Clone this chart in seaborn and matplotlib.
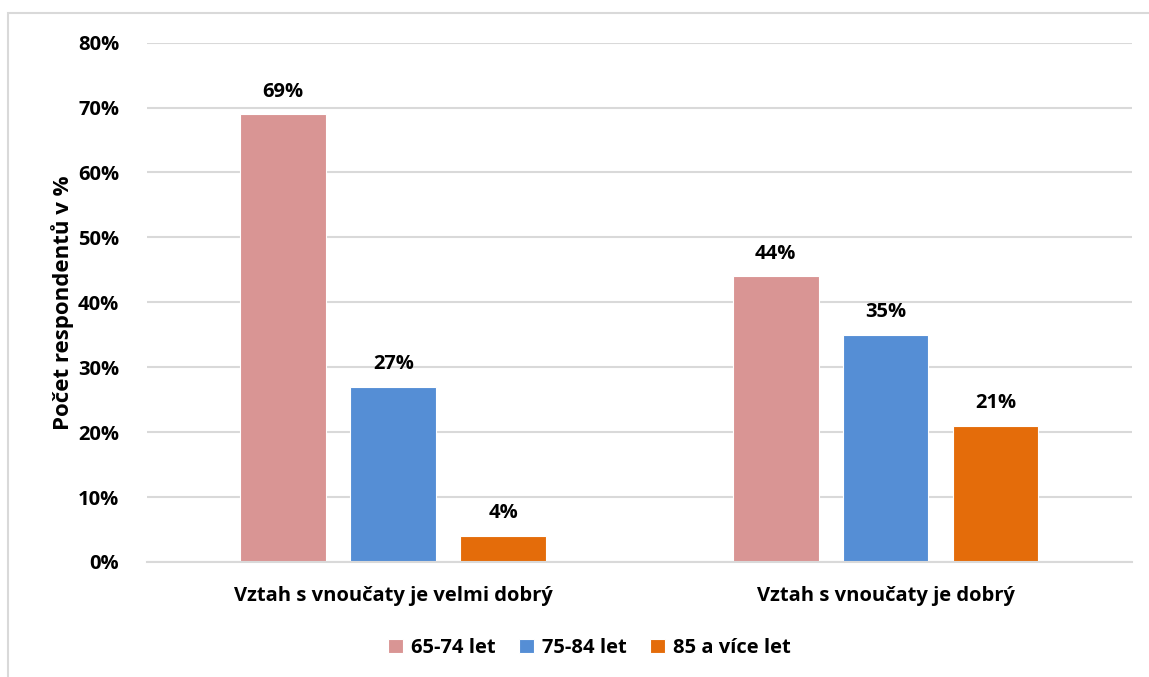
import pandas as pd
import matplotlib
matplotlib.use("Agg")
import matplotlib.pyplot as plt
import seaborn as sns
from matplotlib.patches import Rectangle
from matplotlib.ticker import FuncFormatter

# ── data ────────────────────────────────────────────────────────────────
categories = ["Vztah s vnoučaty je velmi dobrý", "Vztah s vnoučaty je dobrý"]
age_groups = ["65-74 let", "75-84 let", "85 a více let"]
vals_65_74 = [69, 44]
vals_75_84 = [27, 35]
vals_85 = [4, 21]
colors = ["#D99594", "#558ED5", "#E46C0A"]

rows = []
for grp, vals in zip(age_groups, [vals_65_74, vals_75_84, vals_85]):
    for cat, v in zip(categories, vals):
        rows.append({"kategorie": cat, "vek": grp, "procent": v})
df = pd.DataFrame(rows)

sns.set_theme(style="white")
plt.rcParams["font.family"] = ["Open Sans", "DejaVu Sans"]
plt.rcParams["font.weight"] = "bold"
for key in ["text.color", "axes.labelcolor", "xtick.color", "ytick.color"]:
    plt.rcParams[key] = "black"
FS = 14.5

fig = plt.figure(figsize=(11.49, 6.77), dpi=100)
ax = fig.add_axes([0.128, 0.170, 0.857, 0.767])

sns.barplot(
    data=df, x="kategorie", y="procent", hue="vek",
    order=categories, hue_order=age_groups, palette=colors, saturation=1,
    width=0.67, gap=0.22, edgecolor="white", linewidth=0.8,
    ax=ax, legend=True,
)

for cont in ax.containers:
    ax.bar_label(cont, fmt="%d%%", padding=9, fontsize=FS, fontweight="bold")

ax.set_ylim(0, 80)
ax.set_xlim(-0.5, 1.5)
ax.set_yticks(range(0, 81, 10))
ax.yaxis.set_major_formatter(FuncFormatter(lambda v, p: f"{int(v)}%"))
ax.grid(axis="y", color="#D9D9D9", linewidth=1.5)
ax.set_axisbelow(True)
for s in ["top", "right", "left"]:
    ax.spines[s].set_visible(False)
ax.spines["bottom"].set_color("#D9D9D9")
ax.spines["bottom"].set_linewidth(1.5)
ax.tick_params(axis="both", length=0, labelsize=FS)
ax.tick_params(axis="y", pad=20)
ax.tick_params(axis="x", pad=17)
for t in ax.get_xticklabels() + ax.get_yticklabels():
    t.set_fontweight("bold")
ax.set_xlabel("")
ax.set_ylabel("Počet respondentů v %", fontsize=16, fontweight="bold", labelpad=3)

ax.get_legend().remove()
handles = [c.patches[0] for c in ax.containers]
fig.legend(
    handles, age_groups,
    loc="center", bbox_to_anchor=(0.513, 0.043), ncol=3, frameon=False,
    handlelength=0.7, handleheight=0.7, columnspacing=1.2,
    handletextpad=0.4, prop={"weight": "bold", "size": FS},
)

# light outer frame like the original chart area
fig.patches.append(Rectangle((8 / 1149, -0.1), 1.2, 1.1 - 13 / 677,
                             transform=fig.transFigure, fill=False,
                             edgecolor="#D9D9D9", linewidth=1.5))

fig.savefig("out.png", dpi=100)
